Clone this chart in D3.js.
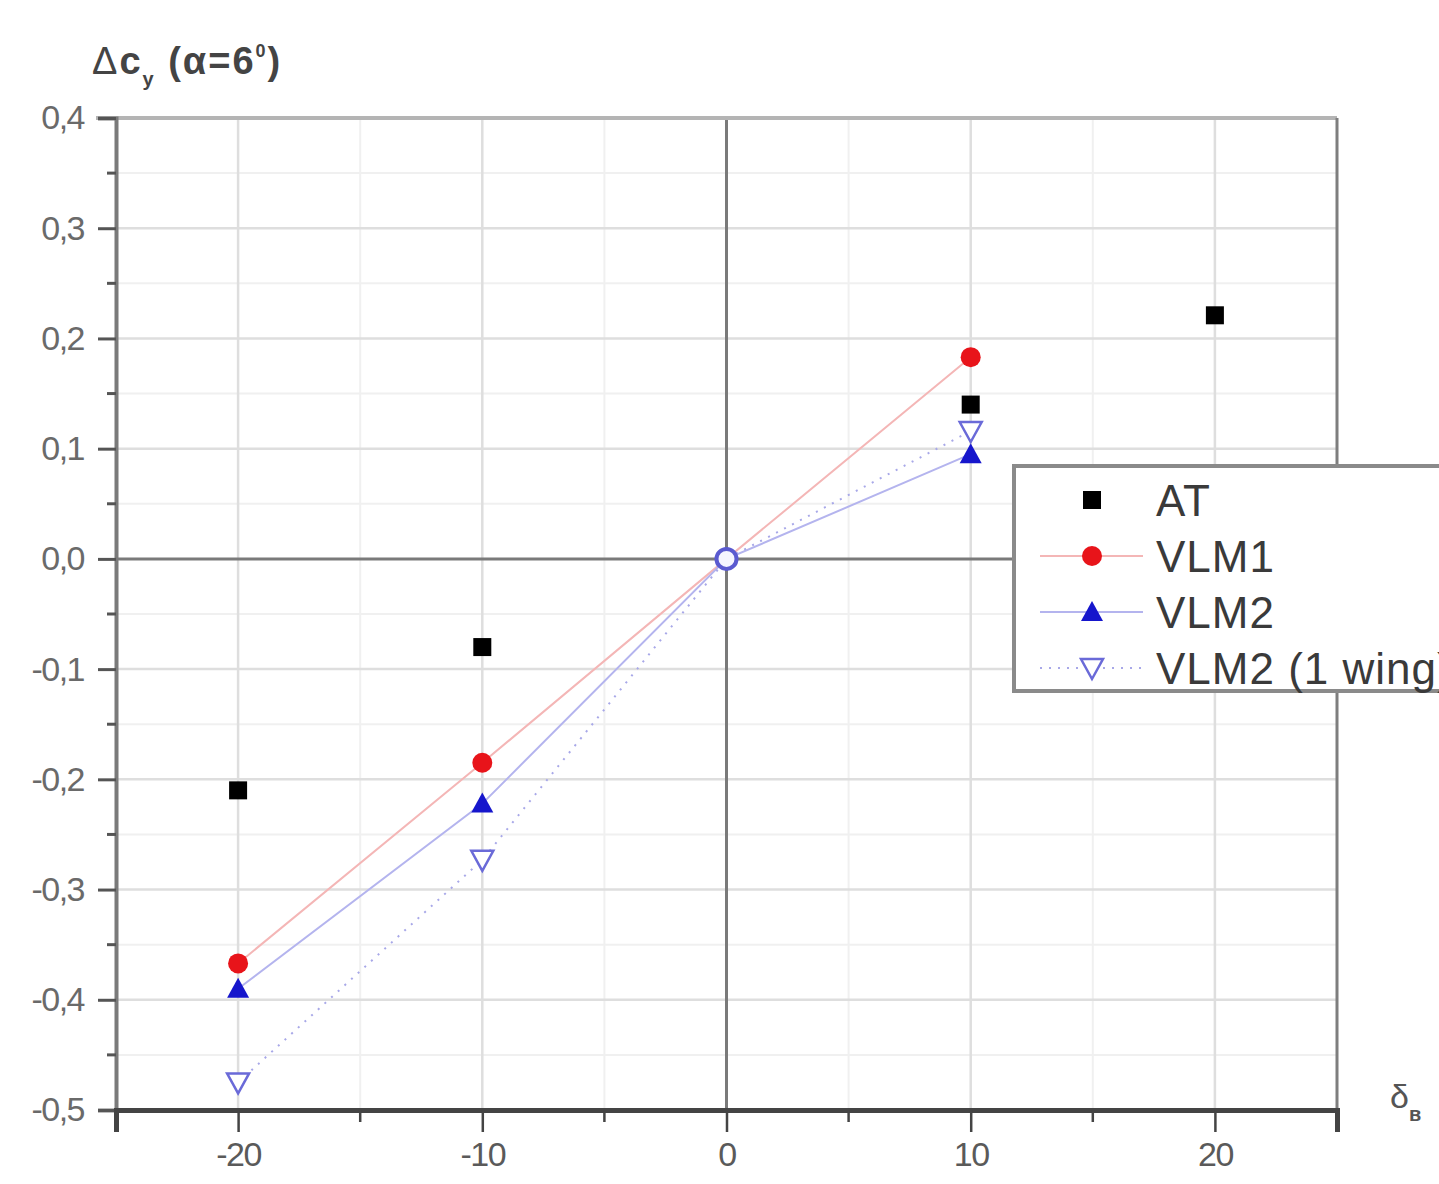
<!DOCTYPE html>
<html>
<head>
<meta charset="utf-8">
<script src="https://cdn.jsdelivr.net/npm/d3@7"></script>
<style>
  body { margin: 0; background: #fff; }
  svg { display: block; }
</style>
</head>
<body>
<div id="chart"></div>
<script>
const xValues = [-20, -10, 0, 10, 20];
const atValues = [-0.21, -0.08, null, 0.14, 0.221];
const vlm1Values = [-0.367, -0.185, 0, 0.183, null];
const vlm2Values = [-0.39, -0.222, 0, 0.095, null];
const vlm2WingValues = [-0.475, -0.273, 0, 0.116, null];
const xTicks = [-20, -10, 0, 10, 20];
const yTicks = [0.4, 0.3, 0.2, 0.1, 0, -0.1, -0.2, -0.3, -0.4, -0.5];
const seriesNames = ["AT", "VLM1", "VLM2", "VLM2 (1 wing)"];

const width = 1439, height = 1184;
const margin = { top: 118, right: 102, bottom: 74, left: 116 };

const svg = d3.select("#chart").append("svg")
  .attr("width", width).attr("height", height);

const x = d3.scaleLinear().domain([-25, 25]).range([margin.left, width - margin.right]);
const y = d3.scaleLinear().domain([-0.5, 0.4]).range([height - margin.bottom, margin.top]);

const font = "'Liberation Sans', Arial, sans-serif";

// minor grid
svg.append("g").selectAll("line").data(d3.range(-25, 26, 5).filter(v => v % 10 !== 0))
  .join("line")
  .attr("x1", d => x(d)).attr("x2", d => x(d))
  .attr("y1", y(0.4)).attr("y2", y(-0.5))
  .attr("stroke", "#f0f0f0").attr("stroke-width", 2);
svg.append("g").selectAll("line").data(d3.range(-0.45, 0.4, 0.1))
  .join("line")
  .attr("x1", x(-25)).attr("x2", x(25))
  .attr("y1", d => y(d)).attr("y2", d => y(d))
  .attr("stroke", "#f0f0f0").attr("stroke-width", 2);

// major grid
svg.append("g").selectAll("line").data(xTicks.filter(v => v !== 0))
  .join("line")
  .attr("x1", d => x(d)).attr("x2", d => x(d))
  .attr("y1", y(0.4)).attr("y2", y(-0.5))
  .attr("stroke", "#dedede").attr("stroke-width", 2.5);
svg.append("g").selectAll("line").data(yTicks.filter(v => v !== 0 && v !== 0.4 && v !== -0.5))
  .join("line")
  .attr("x1", x(-25)).attr("x2", x(25))
  .attr("y1", d => y(d)).attr("y2", d => y(d))
  .attr("stroke", "#dedede").attr("stroke-width", 2.5);

// zero lines
svg.append("line")
  .attr("x1", x(0)).attr("x2", x(0)).attr("y1", y(0.4)).attr("y2", y(-0.5))
  .attr("stroke", "#7a7a7a").attr("stroke-width", 3);
svg.append("line")
  .attr("x1", x(-25)).attr("x2", x(25)).attr("y1", y(0)).attr("y2", y(0))
  .attr("stroke", "#7a7a7a").attr("stroke-width", 3);

// frame
svg.append("line")
  .attr("x1", x(-25) - 20).attr("x2", x(25)).attr("y1", y(0.4)).attr("y2", y(0.4))
  .attr("stroke", "#b4b4b4").attr("stroke-width", 4);
svg.append("line")
  .attr("x1", x(25)).attr("x2", x(25)).attr("y1", y(0.4)).attr("y2", y(-0.5))
  .attr("stroke", "#7e7e7e").attr("stroke-width", 3);

// y axis
const yAxis = svg.append("g").attr("transform", `translate(${x(-25)},0)`)
  .call(d3.axisLeft(y).tickValues(yTicks).tickSize(18).tickPadding(14)
    .tickFormat(d => d3.format(".1f")(d).replace(".", ",").replace("−", "-")));
yAxis.select(".domain").attr("stroke", "#7a7a7a").attr("stroke-width", 4);
yAxis.selectAll(".tick line").attr("stroke", "#555").attr("stroke-width", 3);
yAxis.selectAll("text").attr("font-family", font).attr("font-size", 34)
  .attr("letter-spacing", -1.5).attr("fill", "#6a6a6a");
svg.append("g").selectAll("line").data(d3.range(-0.45, 0.4, 0.1))
  .join("line")
  .attr("x1", x(-25) - 9).attr("x2", x(-25))
  .attr("y1", d => y(d)).attr("y2", d => y(d))
  .attr("stroke", "#555").attr("stroke-width", 3);

// x axis
const xAxis = svg.append("g").attr("transform", `translate(0,${y(-0.5)})`)
  .call(d3.axisBottom(x).tickValues(xTicks).tickSize(22).tickPadding(10)
    .tickFormat(d => String(d)));
xAxis.select(".domain").attr("stroke", "#444").attr("stroke-width", 5);
xAxis.selectAll(".tick line").attr("stroke", "#444").attr("stroke-width", 2.5);
xAxis.selectAll("text").attr("font-family", font).attr("font-size", 34)
  .attr("letter-spacing", -1.5).attr("fill", "#5a5a5a");
svg.append("g").selectAll("line").data([-25, -15, -5, 5, 15, 25])
  .join("line")
  .attr("x1", d => x(d)).attr("x2", d => x(d))
  .attr("y1", y(-0.5)).attr("y2", y(-0.5) + 12)
  .attr("stroke", "#444").attr("stroke-width", 2.5);

// axis titles
const yTitle = svg.append("text").attr("x", 92).attr("y", 74)
  .attr("font-family", font).attr("font-size", 38).attr("letter-spacing", 2)
  .attr("font-weight", "bold").attr("fill", "#444");
yTitle.append("tspan").attr("font-weight", "normal").text("Δ");
yTitle.append("tspan").text("c");
yTitle.append("tspan").attr("font-size", 20).attr("dy", 12).text("y");
yTitle.append("tspan").attr("dy", -12).text(" (α=6");
yTitle.append("tspan").attr("font-size", 18).attr("dy", -17).text("0");
yTitle.append("tspan").attr("dy", 17).text(")");

const xTitle = svg.append("text").attr("x", 1390).attr("y", 1108)
  .attr("font-family", font).attr("font-size", 34)
  .attr("fill", "#555");
xTitle.append("tspan").text("δ");
xTitle.append("tspan").attr("font-size", 20).attr("font-weight", "bold").attr("dy", 13).text("в");

// series
const mk = vals => xValues.map((v, i) => ({ x: v, y: vals[i] })).filter(d => d.y !== null);
const series = [
  { name: seriesNames[0], data: mk(atValues), color: "#000", line: null, marker: "square" },
  { name: seriesNames[1], data: mk(vlm1Values), color: "#e8141a", line: "#f4b6b6", dash: null, marker: "circle" },
  { name: seriesNames[2], data: mk(vlm2Values), color: "#1616cc", line: "#b4b4ee", dash: null, marker: "triangle" },
  { name: seriesNames[3], data: mk(vlm2WingValues), color: "#6a6ad8", line: "#a8a8e8", dash: "2,7", marker: "triangleDown" }
];

const lineGen = d3.line().x(d => x(d.x)).y(d => y(d.y));
series.filter(s => s.line).forEach(s => {
  svg.append("path").datum(s.data)
    .attr("fill", "none").attr("stroke", s.line).attr("stroke-width", 2)
    .attr("stroke-dasharray", s.dash).attr("d", lineGen);
});

function drawMarker(g, s, cx, cy) {
  if (s.marker === "square") {
    g.append("rect").attr("x", cx - 9).attr("y", cy - 9).attr("width", 18).attr("height", 18)
      .attr("fill", s.color);
  } else if (s.marker === "circle") {
    g.append("circle").attr("cx", cx).attr("cy", cy).attr("r", 10).attr("fill", s.color);
  } else if (s.marker === "triangle") {
    g.append("path").attr("d", `M${cx},${cy - 11}L${cx + 11},${cy + 9}L${cx - 11},${cy + 9}Z`)
      .attr("fill", s.color);
  } else {
    g.append("path").attr("d", `M${cx - 11},${cy - 9}L${cx + 11},${cy - 9}L${cx},${cy + 11}Z`)
      .attr("fill", "#fff").attr("stroke", s.color).attr("stroke-width", 2.5);
  }
}

const markers = svg.append("g");
series.forEach(s => {
  s.data.filter(d => d.x !== 0).forEach(d => drawMarker(markers, s, x(d.x), y(d.y)));
});
// common origin point of the VLM series
const originPoint = [{ x: 0, y: 0 }];
markers.selectAll(".origin").data(originPoint).join("circle")
  .attr("class", "origin")
  .attr("cx", d => x(d.x)).attr("cy", d => y(d.y)).attr("r", 10)
  .attr("fill", "#f4f4ff").attr("stroke", "#5a5ad0").attr("stroke-width", 4);

// legend
const legend = svg.append("g");
legend.append("rect").attr("x", 1014).attr("y", 466).attr("width", 440).attr("height", 225)
  .attr("fill", "#fff").attr("stroke", "#8a8a8a").attr("stroke-width", 4);
series.forEach((s, i) => {
  const ly = 500 + i * 56;
  if (s.line) {
    legend.append("line").attr("x1", 1040).attr("x2", 1143).attr("y1", ly).attr("y2", ly)
      .attr("stroke", s.line).attr("stroke-width", 2).attr("stroke-dasharray", s.dash);
  }
  drawMarker(legend, s, 1092, ly);
  legend.append("text").attr("x", 1156).attr("y", ly + 16)
    .attr("font-family", font).attr("font-size", 44).attr("letter-spacing", 1)
    .attr("fill", "#3a3a3a").text(s.name);
});
</script>
</body>
</html>
